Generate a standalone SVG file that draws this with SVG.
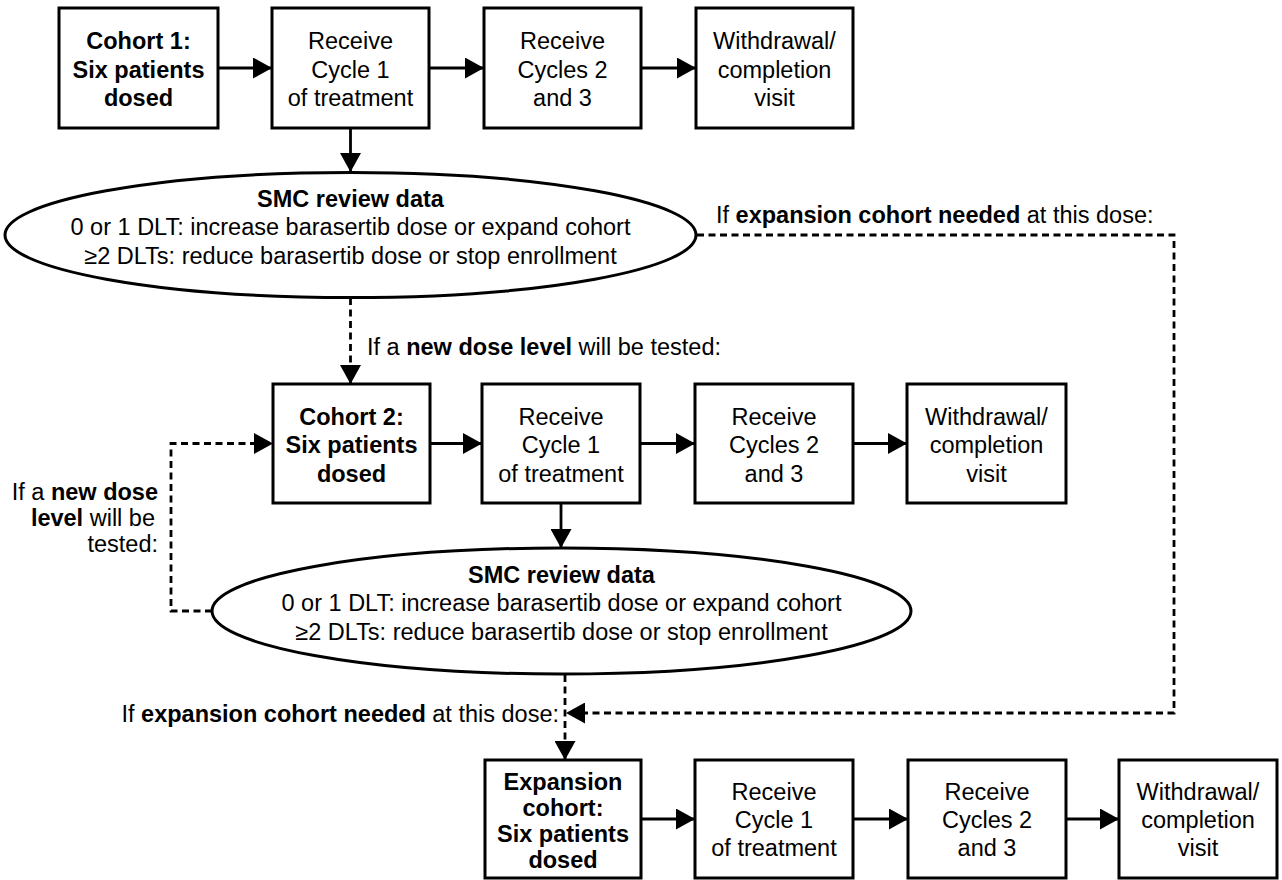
<svg xmlns="http://www.w3.org/2000/svg" width="1282" height="880" viewBox="0 0 1282 880">
<defs>
<style>
.box{fill:#fff;stroke:#000;stroke-width:3}
.ell{fill:#fff;stroke:#000;stroke-width:3}
text{font-family:"Liberation Sans",Arial,sans-serif;font-size:23.5px;fill:#000}
.c{text-anchor:middle}
.b{font-weight:bold}
.e{text-anchor:end}
.ln{fill:none;stroke:#000;stroke-width:2.8}
.d{stroke-dasharray:7 4.5}
</style>
<marker id="ah" markerUnits="userSpaceOnUse" markerWidth="19" markerHeight="21" refX="19" refY="10.5" orient="auto">
<path d="M0,0 L19,10.5 L0,21 Z" fill="#000"/>
</marker>
</defs>
<rect width="1282" height="880" fill="#fff"/>

<g id="connectors">
<path class="ln" d="M218,68 H272" marker-end="url(#ah)"/>
<path class="ln" d="M429,68 H484" marker-end="url(#ah)"/>
<path class="ln" d="M641,68 H696" marker-end="url(#ah)"/>
<path class="ln" d="M350.5,128 V172" marker-end="url(#ah)"/>
<path class="ln d" d="M350.5,298 V384" marker-end="url(#ah)"/>
<path class="ln" d="M430,443.5 H482" marker-end="url(#ah)"/>
<path class="ln" d="M640,443.5 H695" marker-end="url(#ah)"/>
<path class="ln" d="M853,443.5 H907" marker-end="url(#ah)"/>
<path class="ln" d="M561,503 V548" marker-end="url(#ah)"/>
<path class="ln d" d="M212,611 H171 V443.5 H273" marker-end="url(#ah)"/>
<path class="ln d" d="M697,235 H1174 V713 H566" marker-end="url(#ah)"/>
<path class="ln d" d="M565,675 V760" marker-end="url(#ah)"/>
<path class="ln" d="M641,819 H695" marker-end="url(#ah)"/>
<path class="ln" d="M853,819 H908" marker-end="url(#ah)"/>
<path class="ln" d="M1066,819 H1119" marker-end="url(#ah)"/>
</g>

<g id="labels">
<text x="716" y="223"><tspan>If </tspan><tspan class="b">expansion cohort needed</tspan><tspan> at this dose:</tspan></text>
<text x="367" y="355"><tspan>If a </tspan><tspan class="b">new dose level</tspan><tspan> will be tested:</tspan></text>
<text class="e" x="158" y="500"><tspan>If a </tspan><tspan class="b">new dose</tspan></text>
<text class="e" x="155" y="526"><tspan class="b">level</tspan><tspan> will be</tspan></text>
<text class="e" x="158" y="552">tested:</text>
<text class="e" x="559" y="722"><tspan>If </tspan><tspan class="b">expansion cohort needed</tspan><tspan> at this dose:</tspan></text>
</g>

<g id="cohort1">
<rect class="box" x="59" y="8" width="159" height="120"/>
<text class="c b" x="138.5" y="49">Cohort 1:</text>
<text class="c b" x="138.5" y="77.5">Six patients</text>
<text class="c b" x="138.5" y="106">dosed</text>
</g>
<g id="c1-cycle1">
<rect class="box" x="272" y="8" width="157" height="120"/>
<text class="c" x="350.5" y="49">Receive</text>
<text class="c" x="350.5" y="77.5">Cycle 1</text>
<text class="c" x="350.5" y="106">of treatment</text>
</g>
<g id="c1-cycles23">
<rect class="box" x="484" y="8" width="157" height="120"/>
<text class="c" x="562.5" y="49">Receive</text>
<text class="c" x="562.5" y="77.5">Cycles 2</text>
<text class="c" x="562.5" y="106">and 3</text>
</g>
<g id="c1-withdrawal">
<rect class="box" x="696" y="8" width="157" height="120"/>
<text class="c" x="774.5" y="49">Withdrawal/</text>
<text class="c" x="774.5" y="77.5">completion</text>
<text class="c" x="774.5" y="106">visit</text>
</g>

<g id="smc1">
<ellipse class="ell" cx="350.5" cy="235" rx="345.5" ry="62.5"/>
<text class="c b" x="350.5" y="207">SMC review data</text>
<text class="c" x="350.5" y="235">0 or 1 DLT: increase barasertib dose or expand cohort</text>
<text class="c" x="350.5" y="264">≥2 DLTs: reduce barasertib dose or stop enrollment</text>
</g>

<g id="cohort2">
<rect class="box" x="273" y="384" width="157" height="119"/>
<text class="c b" x="351.5" y="424.5">Cohort 2:</text>
<text class="c b" x="351.5" y="453">Six patients</text>
<text class="c b" x="351.5" y="481.5">dosed</text>
</g>
<g id="c2-cycle1">
<rect class="box" x="482" y="384" width="158" height="119"/>
<text class="c" x="561" y="424.5">Receive</text>
<text class="c" x="561" y="453">Cycle 1</text>
<text class="c" x="561" y="481.5">of treatment</text>
</g>
<g id="c2-cycles23">
<rect class="box" x="695" y="384" width="158" height="119"/>
<text class="c" x="774" y="424.5">Receive</text>
<text class="c" x="774" y="453">Cycles 2</text>
<text class="c" x="774" y="481.5">and 3</text>
</g>
<g id="c2-withdrawal">
<rect class="box" x="907" y="384" width="159" height="119"/>
<text class="c" x="986.5" y="424.5">Withdrawal/</text>
<text class="c" x="986.5" y="453">completion</text>
<text class="c" x="986.5" y="481.5">visit</text>
</g>

<g id="smc2">
<ellipse class="ell" cx="561.5" cy="611" rx="349.5" ry="63"/>
<text class="c b" x="561.5" y="583">SMC review data</text>
<text class="c" x="561.5" y="611">0 or 1 DLT: increase barasertib dose or expand cohort</text>
<text class="c" x="561.5" y="640">≥2 DLTs: reduce barasertib dose or stop enrollment</text>
</g>

<g id="expansion">
<rect class="box" x="485" y="760" width="156" height="118"/>
<text class="c b" x="563" y="790">Expansion</text>
<text class="c b" x="563" y="816">cohort:</text>
<text class="c b" x="563" y="842">Six patients</text>
<text class="c b" x="563" y="868">dosed</text>
</g>
<g id="ex-cycle1">
<rect class="box" x="695" y="760" width="158" height="118"/>
<text class="c" x="774" y="800">Receive</text>
<text class="c" x="774" y="828">Cycle 1</text>
<text class="c" x="774" y="856">of treatment</text>
</g>
<g id="ex-cycles23">
<rect class="box" x="908" y="760" width="158" height="118"/>
<text class="c" x="987" y="800">Receive</text>
<text class="c" x="987" y="828">Cycles 2</text>
<text class="c" x="987" y="856">and 3</text>
</g>
<g id="ex-withdrawal">
<rect class="box" x="1119" y="760" width="158" height="118"/>
<text class="c" x="1198" y="800">Withdrawal/</text>
<text class="c" x="1198" y="828">completion</text>
<text class="c" x="1198" y="856">visit</text>
</g>
</svg>
